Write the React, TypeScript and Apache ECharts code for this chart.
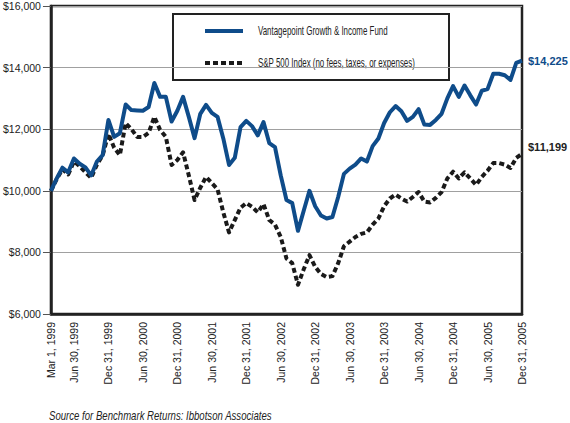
import React, { useEffect, useRef } from "react";
import * as echarts from "echarts";

const FONT = "'Liberation Sans', Arial, sans-serif";

const seriesNames = [
  "Vantagepoint Growth & Income Fund",
  "S&P 500 Index (no fees, taxes, or expenses)",
];

const sourceNote = "Source for Benchmark Returns: Ibbotson Associates";

const tickLabels = [
  "Mar 1, 1999", "Jun 30, 1999", "Dec 31, 1999", "Jun 30, 2000", "Dec 31, 2000",
  "Jun 30, 2001", "Dec 31, 2001", "Jun 30, 2002", "Dec 31, 2002", "Jun 30, 2003",
  "Dec 31, 2003", "Jun 30, 2004", "Dec 31, 2004", "Jun 30, 2005", "Dec 31, 2005",
];

// monthly values, Mar 1 1999 .. Dec 31 2005 (83 points)
const fundValues = [
  10000, 10400, 10750, 10600, 11050, 10880, 10760, 10500, 10950, 11160,
  12300, 11750, 11870, 12800, 12620, 12610, 12600, 12720, 13500, 13050,
  13050, 12250, 12600, 13050, 12400, 11710, 12500, 12790, 12530, 12400,
  11700, 10840, 11070, 12070, 12270, 12100, 11800, 12230, 11550, 11420,
  10500, 9700, 9600, 8700, 9350, 10000, 9500, 9200, 9100, 9150,
  9800, 10550, 10720, 10850, 11050, 10950, 11450, 11700, 12200, 12550,
  12750, 12580, 12270, 12400, 12650, 12150, 12140, 12300, 12500, 13000,
  13400, 13050, 13420, 13100, 12800, 13250, 13300, 13800, 13800, 13750,
  13600, 14150, 14225,
];

const spValues = [
  10000, 10380, 10700, 10530, 10950, 10800, 10600, 10420, 10850, 11150,
  11850, 11400, 11160, 12200, 12000, 11750, 11750, 11880, 12400, 11980,
  11750, 10840, 11000, 11250, 10500, 9700, 10100, 10450, 10250, 10050,
  9300, 8650, 9050, 9450, 9600, 9480, 9300, 9570, 9050, 8900,
  8500, 7800, 7650, 6950, 7450, 7910, 7530, 7300, 7200, 7230,
  7650, 8200, 8350, 8500, 8600, 8650, 8900, 9100, 9500, 9750,
  9880, 9750, 9650, 9800, 9960, 9650, 9620, 9770, 9960, 10400,
  10620, 10400, 10600, 10400, 10190, 10450, 10650, 10900, 10900, 10850,
  10740, 11070, 11199,
];

const MONTHS = ["Jan", "Feb", "Mar", "Apr", "May", "Jun", "Jul", "Aug", "Sep", "Oct", "Nov", "Dec"];
const MONTH_END = [31, 28, 31, 30, 31, 30, 31, 31, 30, 31, 30, 31];

function buildCategories(): string[] {
  const out: string[] = [];
  for (let y = 1999; y <= 2005; y++) {
    for (let m = 0; m < 12; m++) {
      if (y === 1999 && m < 1) continue;
      if (y === 1999 && m === 1) {
        out.push("Mar 1, 1999");
        continue;
      }
      const d = m === 1 && y % 4 === 0 ? 29 : MONTH_END[m];
      out.push(`${MONTHS[m]} ${d}, ${y}`);
    }
  }
  return out;
}

const categories = buildCategories();
const FUND_COLOR = "#0f4c8a";
const SP_COLOR = "#1a1a1a";
const INK = "#222222";
const SP_DASH = [5, 3];

const money = (v: number) => "$" + Math.round(v).toLocaleString("en-US");

export default function App() {
  const ref = useRef<HTMLDivElement>(null);
  useEffect(() => {
    if (!ref.current) return;
    const chart = echarts.init(ref.current, null, { renderer: "svg" });
    chart.setOption({
      animation: false,
      backgroundColor: "#ffffff",
      textStyle: { fontFamily: FONT },
      grid: {
        left: 49,
        right: 48,
        top: 6,
        bottom: 109,
        show: true,
        borderColor: INK,
        borderWidth: 2.5,
        backgroundColor: "transparent",
      },
      graphic: [
        {
          type: "group",
          z: 10,
          children: [
            {
              type: "rect",
              shape: { x: 173, y: 14, width: 276, height: 66 },
              style: { fill: "#ffffff", stroke: INK, lineWidth: 2 },
            },
            {
              type: "line",
              shape: { x1: 205, y1: 31, x2: 243, y2: 31 },
              style: { stroke: FUND_COLOR, lineWidth: 4 },
            },
            {
              type: "text",
              x: 258,
              y: 31,
              scaleX: 0.66,
              style: {
                text: seriesNames[0],
                font: `12px ${FONT}`,
                fill: INK,
                textVerticalAlign: "middle",
                verticalAlign: "middle",
              },
            },
            {
              type: "line",
              shape: { x1: 205, y1: 63, x2: 243, y2: 63 },
              style: { stroke: SP_COLOR, lineWidth: 4, lineDash: SP_DASH },
            },
            {
              type: "text",
              x: 258,
              y: 63,
              scaleX: 0.66,
              style: {
                text: seriesNames[1],
                font: `12px ${FONT}`,
                fill: INK,
                textVerticalAlign: "middle",
                verticalAlign: "middle",
              },
            },
          ],
        },
        {
          type: "text",
          x: 49,
          y: 416,
          scaleX: 0.8,
          style: {
            text: sourceNote,
            font: `italic 12px ${FONT}`,
            fill: INK,
            verticalAlign: "middle",
            textVerticalAlign: "middle",
          },
        },
      ],
      xAxis: {
        type: "category",
        data: categories,
        boundaryGap: false,
        axisLine: { show: true, lineStyle: { color: INK, width: 2.5 } },
        axisTick: { show: false },
        splitLine: { show: false },
        axisLabel: {
          rotate: 90,
          interval: (_i: number, v: string) => tickLabels.includes(v),
          margin: 8,
          fontFamily: FONT,
          fontSize: 10.5,
          color: INK,
        },
      },
      yAxis: {
        type: "value",
        min: 6000,
        max: 16000,
        interval: 2000,
        axisLine: { show: true, lineStyle: { color: INK, width: 2.5 } },
        axisTick: { show: true, length: 8, lineStyle: { color: "#555", width: 1 } },
        splitLine: { show: true, lineStyle: { color: "#a0a0a0", width: 1.2 } },
        axisLabel: {
          formatter: (v: number) => money(v),
          margin: 10,
          fontFamily: FONT,
          fontSize: 10.5,
          color: INK,
        },
      },
      series: [
        {
          name: seriesNames[0],
          type: "line",
          data: fundValues,
          symbol: "none",
          z: 4,
          lineStyle: { color: FUND_COLOR, width: 4, join: "round" },
          itemStyle: { color: FUND_COLOR },
          endLabel: {
            show: true,
            distance: 6,
            formatter: (p: any) => money(p.value),
            fontFamily: FONT,
            fontSize: 11,
            fontWeight: "bold",
            color: FUND_COLOR,
          },
        },
        {
          name: seriesNames[1],
          type: "line",
          data: spValues,
          symbol: "none",
          z: 3,
          lineStyle: { color: SP_COLOR, width: 4, type: SP_DASH, join: "round" },
          itemStyle: { color: SP_COLOR },
          endLabel: {
            show: true,
            distance: 6,
            offset: [0, -7],
            formatter: (p: any) => money(p.value),
            fontFamily: FONT,
            fontSize: 11,
            fontWeight: "bold",
            color: INK,
          },
        },
      ],
    });
    return () => chart.dispose();
  }, []);
  return (
    <div
      ref={ref}
      style={{ position: "absolute", left: 0, top: 0, width: 570, height: 423 }}
    />
  );
}
